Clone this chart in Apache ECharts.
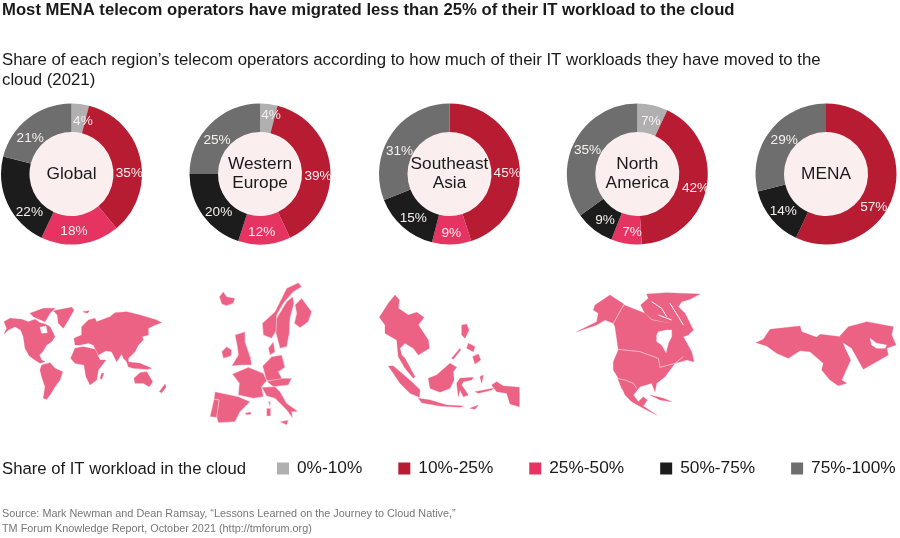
<!DOCTYPE html>
<html><head><meta charset="utf-8">
<style>html,body{margin:0;padding:0;background:#fff}#c{width:900px;height:538px}</style>
<script src="https://cdn.jsdelivr.net/npm/echarts@6/dist/echarts.min.js"></script></head>
<body><div id="c"></div>
<script>
// ---- data ----
const bands = ['0%-10%','10%-25%','25%-50%','50%-75%','75%-100%'];
const regions = ['Global','Western\nEurope','Southeast\nAsia','North\nAmerica','MENA'];
const globalValues = [4,35,18,22,21];
const westernEuropeValues = [4,39,12,20,25];
const southeastAsiaValues = [null,45,9,15,31];
const northAmericaValues = [7,42,7,9,35];
const menaValues = [null,57,null,14,29];
const allValues = [globalValues,westernEuropeValues,southeastAsiaValues,northAmericaValues,menaValues];

// ---- layout / style (separate from the data) ----
const font = '"Liberation Sans", Arial, sans-serif';
const bandColors = ['#b0b0b0','#b71c33','#e63462','#1c1c1c','#6e6e6e'];
const centersX = [71.5,260,449.5,637.3,826];
const centerY = 174, innerR = 42, outerR = 70.5;
const labelNudges = [
 [[4,6],[0,12.5],[-5,-1.5],[11.5,13],[-5,11]],
 [[3.7,0],[-1,8.3],[-2,-1],[6.6,3.8],[-1,8]],
 [[0,0],[-.8,9],[0,0],[3,0],[-1,10.5]],
 [[.5,4.7],[0,3],[4,-.3],[4,-1],[3,3.4]],
 [[0,0],[-10,20],[0,0],[3,-1],[5,2.3]]
];

// ---- decorative map silhouettes (outline tracing, not data); [x,y] in 1/3 px from each origin ----
const mapFill = '#eb6285';
const worldShapes = [
 [[12,125],[30,115],[65,118],[85,125],[105,118],[120,128],[135,132],[150,140],[158,155],[165,170],[155,185],[140,195],[128,215],[118,225],[125,240],[135,245],[120,250],[105,240],[88,228],[75,205],[70,170],[62,150],[45,140],[25,150],[12,162],[20,145]],
 [[160,92],[215,82],[222,90],[205,120],[190,145],[175,130],[172,105]],
 [[90,100],[130,85],[165,85],[150,100],[135,125],[100,110]],
 [[125,255],[150,248],[165,265],[188,275],[180,300],[165,320],[150,345],[140,358],[130,355],[135,320],[125,290],[120,270]],
 [[225,205],[250,200],[285,208],[300,240],[318,240],[295,270],[290,300],[270,315],[258,290],[252,255],[225,250],[212,235]],
 [[225,195],[222,175],[245,165],[245,140],[265,120],[285,115],[290,125],[330,110],[345,98],[380,95],[420,105],[470,120],[485,128],[465,135],[445,145],[445,165],[425,170],[420,185],[405,215],[385,235],[385,250],[370,235],[365,222],[350,245],[335,215],[318,212],[295,225],[280,195],[265,190],[240,195]],
 [[380,245],[420,250],[455,265],[440,268],[400,265],[385,260]],
 [[402,295],[420,278],[440,275],[458,305],[448,320],[430,310],[405,310]],
 [[478,335],[495,312],[498,322],[485,338]],
 [[305,280],[312,280],[305,298],[300,295]],
 [[415,195],[425,165],[430,180]],
 [[248,95],[268,92],[262,100]]
];
const worldHoles = [[[120,142],[138,138],[142,158],[125,160]]];
const europeShapes = [
 [[658,50],[670,35],[680,50],[705,55],[700,70],[680,77],[665,72]],
 [[665,215],[680,200],[695,210],[693,228],[670,235]],
 [[705,165],[735,155],[735,185],[752,235],[755,255],[725,255],[695,258],[715,225],[712,200]],
 [[787,130],[825,95],[860,25],[895,8],[905,20],[880,35],[850,70],[830,105],[830,150],[815,175],[790,165]],
 [[830,115],[860,65],[878,50],[882,70],[870,115],[868,160],[860,200],[840,205],[828,160]],
 [[885,75],[905,55],[935,95],[925,125],[900,143],[883,130],[890,100]],
 [[805,205],[820,185],[825,215],[810,225]],
 [[788,258],[815,230],[845,225],[855,262],[835,275],[848,300],[800,302],[795,285]],
 [[697,282],[745,262],[790,280],[800,302],[785,320],[790,350],[760,355],[715,345],[718,310]],
 [[800,304],[850,295],[875,295],[865,315],[820,320]],
 [[785,322],[825,320],[840,335],[860,370],[895,395],[875,395],[878,415],[860,390],[825,355],[800,348]],
 [[840,425],[865,420],[860,435]],
 [[800,385],[812,385],[812,408],[800,408]],
 [[805,365],[811,365],[810,380]],
 [[645,335],[715,350],[750,365],[720,395],[705,425],[655,428],[650,410],[657,360],[642,358]],
 [[642,358],[657,360],[650,412],[630,410]],
 [[735,400],[750,395],[755,402],[740,405]]
];
const seAsiaShapes = [
 [[88,112],[115,70],[135,45],[148,60],[145,85],[175,105],[200,97],[222,112],[205,135],[235,180],[238,205],[205,225],[190,205],[165,190],[150,205],[155,225],[165,235],[195,290],[190,295],[165,265],[145,230],[140,180],[105,160],[105,135]],
 [[115,258],[130,258],[185,305],[210,330],[208,352],[180,340],[150,310]],
 [[205,355],[240,360],[290,375],[340,378],[330,382],[270,378],[215,368]],
 [[235,295],[260,285],[300,250],[320,262],[310,275],[312,300],[300,325],[270,337],[240,325]],
 [[320,310],[330,295],[370,292],[365,300],[340,305],[335,315],[355,345],[340,350],[330,330],[325,350]],
 [[425,315],[440,305],[460,318],[508,322],[508,380],[480,372],[470,340],[440,335]],
 [[335,135],[350,133],[357,150],[345,175],[335,165]],
 [[368,230],[385,222],[392,240],[375,252]],
 [[355,190],[375,200],[370,215],[350,205]],
 [[305,235],[330,205],[332,210],[310,238]],
 [[360,385],[385,375],[375,388]],
 [[390,290],[400,285],[395,310]],
 [[375,335],[430,325],[425,330],[385,340]]
];
const northAmericaShapes = [
 [[735,75],[780,45],[822,73],[790,130],[765,120],[740,135],[680,155],[740,125],[745,100],[730,90]],
 [[822,75],[885,100],[905,120],[960,130],[1000,125],[1030,150],[1015,165],[1000,170],[1025,215],[1032,245],[1010,240],[975,250],[945,290],[920,310],[915,335],[905,310],[870,320],[850,345],[865,365],[880,350],[892,360],[880,378],[905,395],[920,405],[880,385],[845,365],[825,345],[805,295],[790,270],[790,245],[805,210],[795,140],[790,130]],
 [[872,75],[895,55],[890,42],[950,38],[1050,42],[1020,58],[995,65],[985,80],[1005,100],[1030,150],[1010,160],[975,135],[960,130],[905,118],[885,100]],
 [[803,295],[812,300],[830,340],[815,325]],
 [[900,345],[940,355],[965,365],[930,360]]
];
const northAmericaHoles = [[[920,165],[925,155],[950,150],[965,150],[965,170],[955,190],[948,218],[935,195],[920,185]]];
const northAmericaSlits = [
 [[905,65],[935,85],[950,110]],
 [[960,70],[985,110],[1000,135]],
 [[925,105],[965,120]]
];
const northAmericaBorders = [
 [[822,73],[790,130]],
 [[805,208],[870,215],[925,235],[930,262],[975,250],[1000,230]],
 [[800,295],[825,300],[850,310],[860,325]]
];
const menaShapes = [
 [[468,188],[490,178],[510,148],[600,138],[605,155],[650,172],[660,163],[722,170],[735,205],[752,240],[725,300],[740,310],[715,317],[690,300],[665,270],[670,250],[630,215],[600,212],[565,235],[530,220],[500,198]],
 [[720,168],[745,140],[785,130],[800,125],[880,140],[875,165],[888,195],[860,205],[865,225],[790,268],[755,205],[725,185]]
];
const menaHoles = [[[810,175],[830,190],[860,195],[855,205],[830,205],[815,195]]];

const toPage = (pts, ox, oy) => pts.map(p => [ox + p[0] / 3, oy + p[1] / 3]);
const poly = (pts, ox, oy, fill, stroke) => ({
  type: 'polygon', silent: true, z: 1,
  shape: { points: toPage(pts, ox, oy) },
  style: { fill, stroke: stroke || fill, lineWidth: stroke ? 0.5 : 0.3 }
});
const line = (pts, ox, oy, color, w) => ({
  type: 'polyline', silent: true, z: 2,
  shape: { points: toPage(pts, ox, oy) },
  style: { stroke: color, lineWidth: w, fill: null }
});
const graphics = [
  ...worldShapes.map(s => poly(s, 0, 280, mapFill)),
  ...worldHoles.map(s => poly(s, 0, 280, '#fff')),
  ...europeShapes.map(s => poly(s, 0, 280, mapFill, '#fbd7e0')),
  ...seAsiaShapes.map(s => poly(s, 350, 280, mapFill)),
  ...northAmericaShapes.map(s => poly(s, 350, 280, mapFill)),
  ...northAmericaHoles.map(s => poly(s, 350, 280, '#fff')),
  ...northAmericaSlits.map(s => line(s, 350, 280, '#fff', 1)),
  ...northAmericaBorders.map(s => line(s, 350, 280, '#f9cdd9', 0.8)),
  ...menaShapes.map(s => poly(s, 600, 280, mapFill)),
  ...menaHoles.map(s => poly(s, 600, 280, '#fff'))
];

const text = (t, left, top, size, color, weight, lh) => ({
  text: t, left, top, padding: 0, itemGap: 0,
  textStyle: { fontFamily: font, fontSize: size, color, fontWeight: weight || 'normal', lineHeight: lh || size * 1.2 }
});

const series = [];
regions.forEach((region, r) => {
  series.push({
    type: 'pie', center: [centersX[r], centerY], radius: [innerR, outerR],
    startAngle: 90, clockwise: true, silent: true, animation: false, avoidLabelOverlap: false,
    z: 3, zlevel: 0,
    label: { show: true, position: 'inside', formatter: '{c}%', color: '#f6f0f0', fontFamily: font, fontSize: 13.6 },
    labelLine: { show: false }, labelLayout: { hideOverlap: false, moveOverlap: false }, emphasis: { disabled: true },
    data: bands.map((b, i) => ({
      name: b, value: allValues[r][i],
      itemStyle: { color: bandColors[i] },
      label: { offset: labelNudges[r][i] }
    })).filter(d => d.value !== null)
  });
  series.push({
    type: 'pie', center: [centersX[r], centerY], radius: [0, innerR],
    silent: true, animation: false, avoidLabelOverlap: false, z: 2,
    label: { show: true, position: 'center', formatter: '{b}', color: '#1a1a1a', fontFamily: font, fontSize: 17.3, lineHeight: 19 },
    labelLine: { show: false }, labelLayout: { hideOverlap: false, moveOverlap: false }, emphasis: { disabled: true },
    itemStyle: { color: '#fbeeee' },
    data: [{ name: region, value: 1 }]
  });
});

const chart = echarts.init(document.getElementById('c'), null, { renderer: 'canvas' });
chart.setOption({
  animation: false,
  backgroundColor: '#fff',
  title: [
    text('Most MENA telecom operators have migrated less than 25% of their IT workload to the cloud', 2, 0, 16.7, '#1a1a1a', 'bold'),
    text('Share of each region\u2019s telecom operators according to how much of their IT workloads they have moved to the\ncloud (2021)', 2, 50, 16.8, '#1a1a1a', 'normal', 20),
    text('Share of IT workload in the cloud', 2, 459, 16.7, '#1a1a1a'),
    text('Source: Mark Newman and Dean Ramsay, \u201cLessons Learned on the Journey to Cloud Native,\u201d\nTM Forum Knowledge Report, October 2021 (http://tmforum.org)', 2, 506, 10.85, '#777777', 'normal', 15)
  ],
  legend: {
    data: bands, left: 277, top: 460, padding: 0, itemGap: 36, itemWidth: 12, itemHeight: 12,
    icon: 'rect', selectedMode: false,
    textStyle: { fontFamily: font, fontSize: 17.3, color: '#1a1a1a', padding: [0, 0, 0, 3] }
  },
  graphic: graphics,
  series
});
</script></body></html>
